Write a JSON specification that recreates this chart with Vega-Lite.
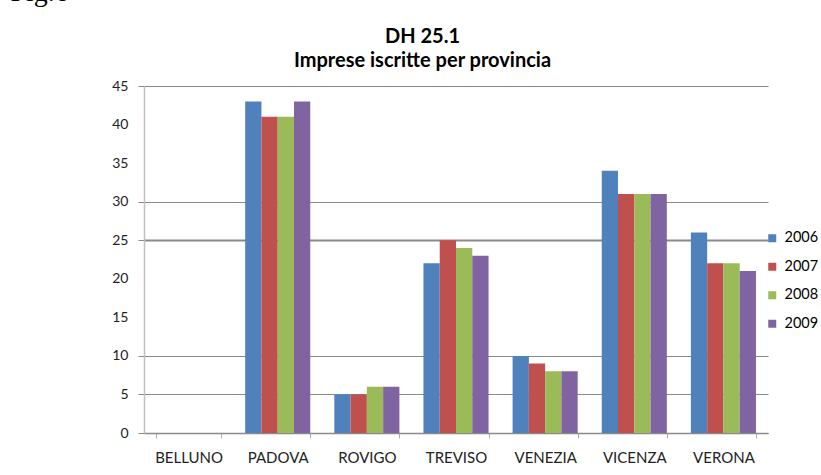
{
  "$schema": "https://vega.github.io/schema/vega-lite/v6.json",
  "autosize": {"type": "none"},
  "padding": {"left": 144, "top": 86, "right": 53, "bottom": 42},
  "width": 624,
  "height": 347,
  "background": "white",
  "data": {
    "values": [
      {"provincia": "BELLUNO", "anno": "2006", "imprese": 0},
      {"provincia": "BELLUNO", "anno": "2007", "imprese": 0},
      {"provincia": "BELLUNO", "anno": "2008", "imprese": 0},
      {"provincia": "BELLUNO", "anno": "2009", "imprese": 0},
      {"provincia": "PADOVA", "anno": "2006", "imprese": 43},
      {"provincia": "PADOVA", "anno": "2007", "imprese": 41},
      {"provincia": "PADOVA", "anno": "2008", "imprese": 41},
      {"provincia": "PADOVA", "anno": "2009", "imprese": 43},
      {"provincia": "ROVIGO", "anno": "2006", "imprese": 5},
      {"provincia": "ROVIGO", "anno": "2007", "imprese": 5},
      {"provincia": "ROVIGO", "anno": "2008", "imprese": 6},
      {"provincia": "ROVIGO", "anno": "2009", "imprese": 6},
      {"provincia": "TREVISO", "anno": "2006", "imprese": 22},
      {"provincia": "TREVISO", "anno": "2007", "imprese": 25},
      {"provincia": "TREVISO", "anno": "2008", "imprese": 24},
      {"provincia": "TREVISO", "anno": "2009", "imprese": 23},
      {"provincia": "VENEZIA", "anno": "2006", "imprese": 10},
      {"provincia": "VENEZIA", "anno": "2007", "imprese": 9},
      {"provincia": "VENEZIA", "anno": "2008", "imprese": 8},
      {"provincia": "VENEZIA", "anno": "2009", "imprese": 8},
      {"provincia": "VICENZA", "anno": "2006", "imprese": 34},
      {"provincia": "VICENZA", "anno": "2007", "imprese": 31},
      {"provincia": "VICENZA", "anno": "2008", "imprese": 31},
      {"provincia": "VICENZA", "anno": "2009", "imprese": 31},
      {"provincia": "VERONA", "anno": "2006", "imprese": 26},
      {"provincia": "VERONA", "anno": "2007", "imprese": 22},
      {"provincia": "VERONA", "anno": "2008", "imprese": 22},
      {"provincia": "VERONA", "anno": "2009", "imprese": 21}
    ]
  },
  "mark": {"type": "bar"},
  "encoding": {
    "x": {
      "field": "provincia",
      "type": "nominal",
      "sort": ["BELLUNO", "PADOVA", "ROVIGO", "TREVISO", "VENEZIA", "VICENZA", "VERONA"],
      "scale": {"paddingInner": 0.27, "paddingOuter": 0.135},
      "axis": {
        "title": ["DH 25.1", "Imprese iscritte per provincia"],
        "titleFont": "Lato",
        "titleFontSize": 20,
        "titleFontWeight": "bold",
        "titleColor": "#000000",
        "titleLineHeight": 24,
        "titleAlign": "center",
        "titleAnchor": null,
        "titleBaseline": "alphabetic",
        "titleX": 278,
        "titleY": -391,
        "labelAngle": 0,
        "labelFont": "Lato",
        "labelFontSize": 15,
        "labelColor": "#222222",
        "labelPadding": 12,
        "tickBand": "extent",
        "tickSize": 5,
        "tickColor": "#b0b0b0",
        "domainColor": "#8a8a8a",
        "domainWidth": 1.5,
        "grid": false
      }
    },
    "xOffset": {
      "field": "anno",
      "type": "nominal",
      "scale": {"paddingInner": 0, "paddingOuter": 0}
    },
    "y": {
      "field": "imprese",
      "type": "quantitative",
      "scale": {"domain": [0, 45], "nice": false},
      "axis": {
        "title": "Fig.6",
        "titleFont": "Liberation Serif",
        "titleFontSize": 28,
        "titleFontWeight": "normal",
        "titleColor": "#000000",
        "titleAngle": 0,
        "titleAlign": "left",
        "titleBaseline": "alphabetic",
        "titleX": -134,
        "titleY": -86,
        "values": [0, 5, 10, 15, 20, 25, 30, 35, 40, 45],
        "labelFont": "Lato",
        "labelFontSize": 14,
        "labelColor": "#222222",
        "labelPadding": 10,
        "tickSize": 6,
        "tickColor": {"condition": {"test": "indexof([15,20,35,40], datum.value) >= 0", "value": "transparent"}, "value": "#8a8a8a"},
        "domainColor": "#c0c0c0",
        "domainWidth": 1.5,
        "grid": true,
        "gridColor": {"condition": {"test": "indexof([15,20,35,40], datum.value) >= 0", "value": "transparent"}, "value": "#8a8a8a"},
        "gridWidth": {"condition": {"test": "datum.value === 25", "value": 2}, "value": 1}
      }
    },
    "color": {
      "field": "anno",
      "type": "nominal",
      "scale": {"domain": ["2006", "2007", "2008", "2009"], "range": ["#4F81BD", "#C0504D", "#9BBB59", "#8064A2"]},
      "legend": {
        "title": null,
        "orient": "none",
        "legendX": 621,
        "legendY": 145,
        "symbolType": "square",
        "symbolSize": 64,
        "symbolStrokeWidth": 0,
        "labelFont": "Lato",
        "labelFontSize": 14.5,
        "labelColor": "#000000",
        "labelOffset": 5,
        "rowPadding": 13.5
      }
    }
  },
  "config": {
    "view": {"stroke": null}
  }
}
